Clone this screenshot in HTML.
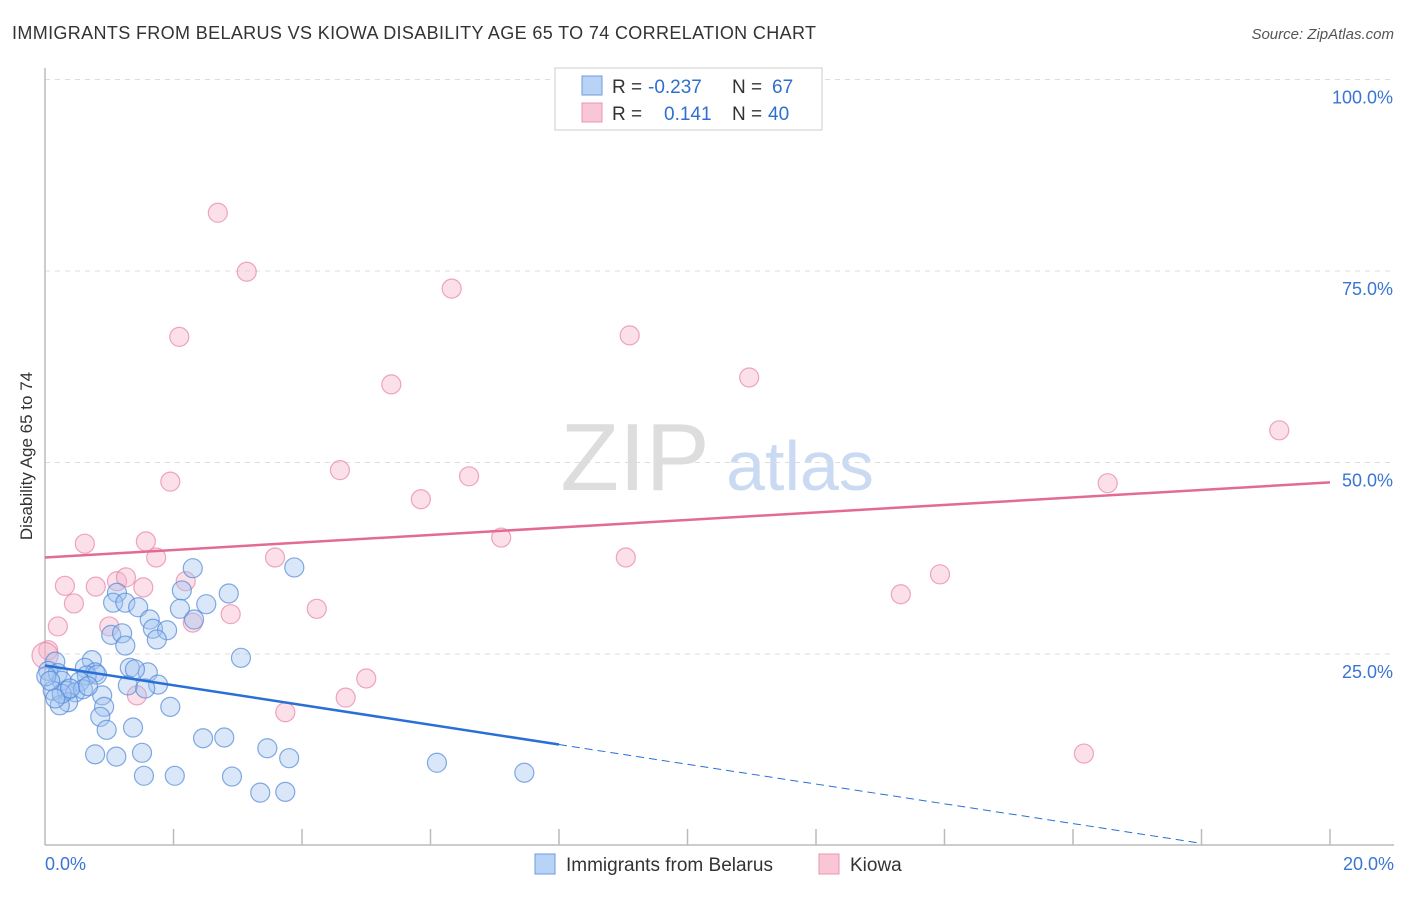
<!DOCTYPE html>
<html><head><meta charset="utf-8"><style>
body{margin:0;background:#fff;font-family:"Liberation Sans",sans-serif;}
svg text{font-family:"Liberation Sans",sans-serif;white-space:pre;}
</style></head><body>
<svg id="chart" width="1406" height="892" xmlns="http://www.w3.org/2000/svg">
<text x="12" y="39" font-size="18" fill="#333" textLength="804">IMMIGRANTS FROM BELARUS VS KIOWA DISABILITY AGE 65 TO 74 CORRELATION CHART</text>
<text x="1394" y="39" font-size="15" fill="#555" font-style="italic" text-anchor="end">Source: ZipAtlas.com</text>
<text x="32" y="456" font-size="17" fill="#333" text-anchor="middle" transform="rotate(-90 32 456)">Disability Age 65 to 74</text>
<g><text x="635" y="490" font-size="96" fill="#ddd" font-family="Liberation Serif" text-anchor="middle">ZIP</text><text x="800" y="490" font-size="70" fill="#c9daf2" text-anchor="middle">atlas</text></g>
<g id="grid"></g><g id="axes"></g><g id="pts"></g><g id="lines"></g>
<g>
<rect x="555" y="68" width="267" height="62" fill="#fff" stroke="#ccc"/>
<rect x="582" y="76" width="20" height="19" fill="#b8d3f5" stroke="#6b9be0"/>
<rect x="582" y="103" width="20" height="19" fill="#f9c6d6" stroke="#ec94b0"/>
<text x="612" y="93" font-size="19" fill="#333">R =</text>
<text x="648" y="93" font-size="19" fill="#2f6fd0">-0.237</text>
<text x="732" y="93" font-size="19" fill="#333">N =</text>
<text x="772" y="93" font-size="19" fill="#2f6fd0">67</text>
<text x="612" y="120" font-size="19" fill="#333">R =</text>
<text x="664" y="120" font-size="19" fill="#2f6fd0">0.141</text>
<text x="732" y="120" font-size="19" fill="#333">N =</text>
<text x="768" y="120" font-size="19" fill="#2f6fd0">40</text>
</g>
<g>
<rect x="535" y="854" width="20" height="20" fill="#b8d3f5" stroke="#6b9be0"/>
<text x="566" y="871" font-size="19" fill="#333">Immigrants from Belarus</text>
<rect x="819" y="854" width="20" height="20" fill="#f9c6d6" stroke="#ec94b0"/>
<text x="850" y="871" font-size="19" fill="#333">Kiowa</text>
</g>
</svg>
<script>
const blueX=[2.30,2.86,3.88,2.13,1.12,1.06,1.25,1.45,2.10,2.51,1.63,2.32,1.03,1.20,1.68,1.90,1.25,1.74,3.05,0.16,0.73,0.05,0.20,0.62,0.78,0.65,1.32,1.60,1.40,0.26,0.54,0.81,1.76,1.29,1.56,0.12,0.34,0.47,0.36,0.23,0.26,0.89,0.92,0.59,1.95,0.86,0.96,1.37,2.46,2.79,0.78,1.11,1.51,3.46,3.80,6.10,1.54,2.02,2.91,3.35,3.74,7.46,0.02,0.08,0.39,0.67,0.16];
const blueY=[36.2,32.9,36.3,33.3,33.0,31.7,31.7,31.1,30.9,31.5,29.5,29.5,27.5,27.7,28.3,28.1,26.1,26.9,24.5,24.0,24.2,22.8,22.5,23.2,22.6,22.2,23.2,22.6,23.0,21.5,21.4,22.3,21.0,20.9,20.5,20.2,20.2,20.0,18.7,18.3,19.8,19.6,18.1,20.4,18.1,16.8,15.1,15.4,14.0,14.1,11.9,11.6,12.1,12.7,11.4,10.8,9.1,9.1,9.0,6.9,7.0,9.5,22.1,21.5,20.5,20.8,19.2];
const pinkX=[2.69,3.14,6.33,2.09,9.10,5.39,10.96,19.21,4.59,1.95,6.60,5.85,16.54,0.62,1.57,7.10,0.31,0.79,1.12,1.26,1.73,3.58,9.04,1.53,2.19,0.45,0.20,1.00,2.30,2.89,4.23,13.32,13.93,5.00,4.68,3.74,1.43,16.17,0.05,0.0];
const pinkY=[82.6,74.9,72.7,66.4,66.6,60.2,61.1,54.2,49.0,47.5,48.2,45.2,47.3,39.4,39.7,40.2,33.9,33.8,34.5,35.0,37.6,37.6,37.6,33.7,34.5,31.6,28.6,28.6,29.1,30.2,30.9,32.8,35.4,21.8,19.3,17.4,19.6,12.0,25.5,24.8];
const yTicks=[25,50,75,100];
const yTickLabels=["25.0%","50.0%","75.0%","100.0%"];
const xTickLabels=["0.0%","20.0%"];
const blueFit=[23.5,-1.29];
const pinkFit=[37.6,0.49];
const X=v=>45+v/20*1285, Y=v=>845.5-v/100*766;
const NS="http://www.w3.org/2000/svg";
function mk(t,a,p){const e=document.createElementNS(NS,t);for(const k in a)e.setAttribute(k,a[k]);p.appendChild(e);return e;}
const grid=document.getElementById('grid'),axes=document.getElementById('axes'),pts=document.getElementById('pts'),lines=document.getElementById('lines');
yTicks.forEach((v,i)=>{
 const l=mk('line',{x1:45,x2:1394,y1:Y(v),y2:Y(v),stroke:'#ddd','stroke-dasharray':'5,5'},grid);
 
 
 const t=mk('text',{x:1393,y:Y(v)+24,'font-size':18,fill:'#3a75d4','text-anchor':'end'},grid);
 t.textContent=yTickLabels[i];
 
 
});
const ya=mk('line',{x1:45,x2:45,y1:68,y2:845,stroke:'#bbb','stroke-width':1.5},axes);


const xa=mk('line',{x1:45,x2:1394,y1:845,y2:845,stroke:'#bbb','stroke-width':1.5},axes);


for(let i=1;i<=10;i++){
 const t=mk('line',{x1:X(i*2),x2:X(i*2),y1:829,y2:845,stroke:'#bbb','stroke-width':1.5},axes);
 
 
}
[[0,'start',45],[20,'end',1394]].forEach((d,i)=>{
 const t=mk('text',{x:d[2],y:870,'font-size':18,fill:'#3a75d4','text-anchor':d[1]},axes);
 t.textContent=xTickLabels[i];
 
 
});
pinkX.forEach((x,i)=>{
 const c=mk('circle',{cx:X(x),cy:Y(pinkY[i]),r:i==39?13:9.5,fill:'rgba(246,178,200,0.4)',stroke:'rgba(232,130,165,0.7)','stroke-width':1.2},pts);
 
 
});
blueX.forEach((x,i)=>{
 const c=mk('circle',{cx:X(x),cy:Y(blueY[i]),r:9.5,fill:'rgba(160,196,240,0.4)',stroke:'rgba(80,135,215,0.7)','stroke-width':1.2},pts);
 
 
});
const bl=mk('line',{x1:X(0),y1:Y(blueFit[0]),x2:X(8),y2:Y(blueFit[0]+8*blueFit[1]),stroke:'#2a6fd6','stroke-width':2.5},lines);


const bd=mk('line',{x1:X(8),y1:Y(blueFit[0]+8*blueFit[1]),x2:X(18),y2:Y(blueFit[0]+18*blueFit[1]),stroke:'#2a6fd6','stroke-width':1,'stroke-dasharray':'8,5'},lines);


const pl=mk('line',{x1:X(0),y1:Y(pinkFit[0]),x2:X(20),y2:Y(pinkFit[0]+20*pinkFit[1]),stroke:'#e46a96','stroke-width':2.5},lines);


</script>
</body></html>
